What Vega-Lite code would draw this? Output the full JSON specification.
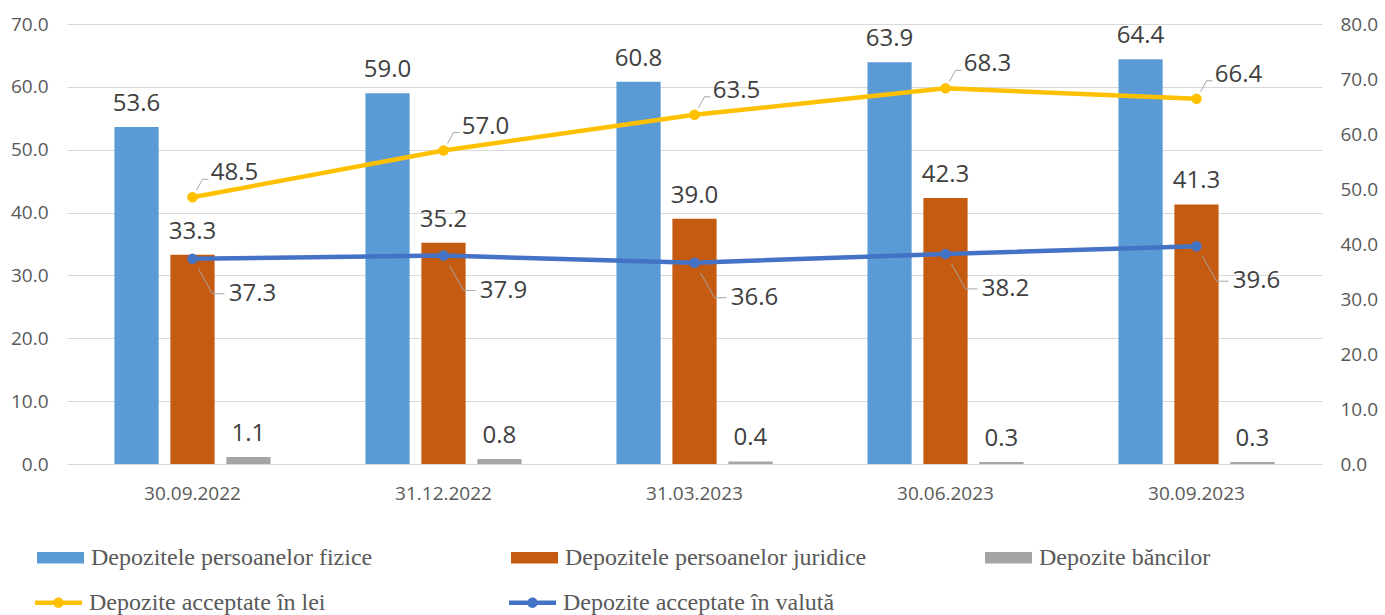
{
  "$schema": "https://vega.github.io/schema/vega-lite/v6.json",
  "width": 1255,
  "height": 440,
  "autosize": {"type": "none"},
  "padding": {"left": 67, "top": 24, "right": 63, "bottom": 151},
  "background": "white",
  "config": {"view": {"stroke": null}, "font": "Open Sans"},
  "datasets": {
    "bars": [
      {"date": "30.09.2022", "series": "Depozitele persoanelor fizice", "value": 53.6},
      {"date": "30.09.2022", "series": "Depozitele persoanelor juridice", "value": 33.3},
      {"date": "30.09.2022", "series": "Depozite băncilor", "value": 1.1},
      {"date": "31.12.2022", "series": "Depozitele persoanelor fizice", "value": 59.0},
      {"date": "31.12.2022", "series": "Depozitele persoanelor juridice", "value": 35.2},
      {"date": "31.12.2022", "series": "Depozite băncilor", "value": 0.8},
      {"date": "31.03.2023", "series": "Depozitele persoanelor fizice", "value": 60.8},
      {"date": "31.03.2023", "series": "Depozitele persoanelor juridice", "value": 39.0},
      {"date": "31.03.2023", "series": "Depozite băncilor", "value": 0.4},
      {"date": "30.06.2023", "series": "Depozitele persoanelor fizice", "value": 63.9},
      {"date": "30.06.2023", "series": "Depozitele persoanelor juridice", "value": 42.3},
      {"date": "30.06.2023", "series": "Depozite băncilor", "value": 0.3},
      {"date": "30.09.2023", "series": "Depozitele persoanelor fizice", "value": 64.4},
      {"date": "30.09.2023", "series": "Depozitele persoanelor juridice", "value": 41.3},
      {"date": "30.09.2023", "series": "Depozite băncilor", "value": 0.3}
    ],
    "lines": [
      {"date": "30.09.2022", "series": "Depozite acceptate în lei", "value": 48.5},
      {"date": "31.12.2022", "series": "Depozite acceptate în lei", "value": 57.0},
      {"date": "31.03.2023", "series": "Depozite acceptate în lei", "value": 63.5},
      {"date": "30.06.2023", "series": "Depozite acceptate în lei", "value": 68.3},
      {"date": "30.09.2023", "series": "Depozite acceptate în lei", "value": 66.4},
      {"date": "30.09.2022", "series": "Depozite acceptate în valută", "value": 37.3},
      {"date": "31.12.2022", "series": "Depozite acceptate în valută", "value": 37.9},
      {"date": "31.03.2023", "series": "Depozite acceptate în valută", "value": 36.6},
      {"date": "30.06.2023", "series": "Depozite acceptate în valută", "value": 38.2},
      {"date": "30.09.2023", "series": "Depozite acceptate în valută", "value": 39.6}
    ]
  },
  "layer": [
    {
      "data": {"name": "bars"},
      "encoding": {
        "x": {
          "field": "date", "type": "nominal",
          "scale": {"domain": ["30.09.2022", "31.12.2022", "31.03.2023", "30.06.2023", "30.09.2023"], "paddingInner": 0.378, "paddingOuter": 0.189},
          "axis": {"title": null, "labelFontSize": 19, "labelColor": "#595959", "ticks": false, "domainColor": "#D9D9D9", "labelPadding": 20, "labelAngle": 0}
        },
        "y": {
          "field": "value", "type": "quantitative",
          "scale": {"domain": [0, 70]},
          "axis": {"title": null, "values": [0, 10, 20, 30, 40, 50, 60, 70], "format": ".1f", "labelFontSize": 19, "labelColor": "#595959", "ticks": false, "domain": false, "gridColor": "#D9D9D9", "labelPadding": 19}
        },
        "xOffset": {
          "field": "series", "type": "nominal",
          "scale": {"domain": ["Depozitele persoanelor fizice", "Depozitele persoanelor juridice", "Depozite băncilor"], "paddingInner": 0.21, "paddingOuter": 0}
        }
      },
      "layer": [
        {
          "mark": {"type": "bar"},
          "encoding": {
            "color": {
              "field": "series", "type": "nominal",
              "scale": {"domain": ["Depozitele persoanelor fizice", "Depozitele persoanelor juridice", "Depozite băncilor"], "range": ["#5B9BD5", "#C55A11", "#A5A5A5"]},
              "legend": {
                "title": null, "orient": "none", "legendX": -30, "legendY": 510,
                "direction": "horizontal", "columns": 3, "gridAlign": "all", "columnPadding": 118,
                "symbolType": "M-1,-0.24H1V0.24H-1Z", "symbolSize": 2209, "symbolStrokeWidth": 0, "symbolOpacity": 1,
                "labelFont": "Liberation Serif", "labelFontSize": 24, "labelColor": "#595959", "labelOffset": 7, "labelLimit": 500
              }
            }
          }
        },
        {
          "mark": {"type": "text", "baseline": "alphabetic", "dy": -16, "fontSize": 24, "color": "#404040"},
          "encoding": {"text": {"field": "value", "type": "quantitative", "format": ".1f"}}
        }
      ]
    },
    {
      "data": {"name": "lines"},
      "encoding": {
        "x": {"field": "date", "type": "nominal", "scale": {"domain": ["30.09.2022", "31.12.2022", "31.03.2023", "30.06.2023", "30.09.2023"]}},
        "y": {
          "field": "value", "type": "quantitative",
          "scale": {"domain": [0, 80]},
          "axis": {"orient": "right", "title": null, "values": [0, 10, 20, 30, 40, 50, 60, 70, 80], "format": ".1f", "labelFontSize": 19, "labelColor": "#595959", "ticks": false, "domain": false, "grid": false, "labelPadding": 18}
        }
      },
      "layer": [
        {
          "mark": {"type": "line", "strokeWidth": 4.5},
          "encoding": {
            "stroke": {"field": "series", "type": "nominal", "scale": {"domain": ["Depozite acceptate în lei", "Depozite acceptate în valută"], "range": ["#FFC000", "#4472C4"]}, "legend": null}
          }
        },
        {
          "transform": [{"filter": "datum.series == 'Depozite acceptate în lei'"}],
          "mark": {"type": "point", "shape": "M0.2,-0.35L0.5,-0.9H0.8", "size": 1600, "filled": false, "stroke": "#A6A6A6", "strokeWidth": 1, "opacity": 1},
          "encoding": {}
        },
        {
          "transform": [{"filter": "datum.series == 'Depozite acceptate în valută'"}],
          "mark": {"type": "point", "shape": "M0.3,0.5L1,1.75H1.6", "size": 1600, "filled": false, "stroke": "#A6A6A6", "strokeWidth": 1, "opacity": 1},
          "encoding": {}
        },
        {
          "mark": {"type": "point", "shape": "circle", "size": 110, "filled": true, "opacity": 1},
          "encoding": {
            "color": {
              "field": "series", "type": "nominal",
              "scale": {"domain": ["Depozite acceptate în lei", "Depozite acceptate în valută"], "range": ["#FFC000", "#4472C4"]},
              "legend": {
                "title": null, "orient": "none", "legendX": -32, "legendY": 555,
                "direction": "horizontal", "columns": 3, "gridAlign": "all", "columnPadding": 148,
                "symbolType": "M-1,-0.1H1V0.1H-1Z M-0.22,0A0.22,0.22 0 1,1 0.22,0A0.22,0.22 0 1,1 -0.22,0Z", "symbolSize": 2209, "symbolStrokeWidth": 0, "symbolOpacity": 1,
                "labelFont": "Liberation Serif", "labelFontSize": 24, "labelColor": "#595959", "labelOffset": 7, "labelLimit": 500
              }
            }
          }
        },
        {
          "transform": [{"filter": "datum.series == 'Depozite acceptate în lei'"}],
          "mark": {"type": "text", "baseline": "middle", "align": "center", "dx": 42, "dy": -24, "fontSize": 24, "color": "#404040"},
          "encoding": {"text": {"field": "value", "type": "quantitative", "format": ".1f"}}
        },
        {
          "transform": [{"filter": "datum.series == 'Depozite acceptate în valută'"}],
          "mark": {"type": "text", "baseline": "middle", "align": "center", "dx": 60, "dy": 35, "fontSize": 24, "color": "#404040"},
          "encoding": {"text": {"field": "value", "type": "quantitative", "format": ".1f"}}
        }
      ]
    }
  ],
  "resolve": {"scale": {"y": "independent", "color": "independent"}}
}
